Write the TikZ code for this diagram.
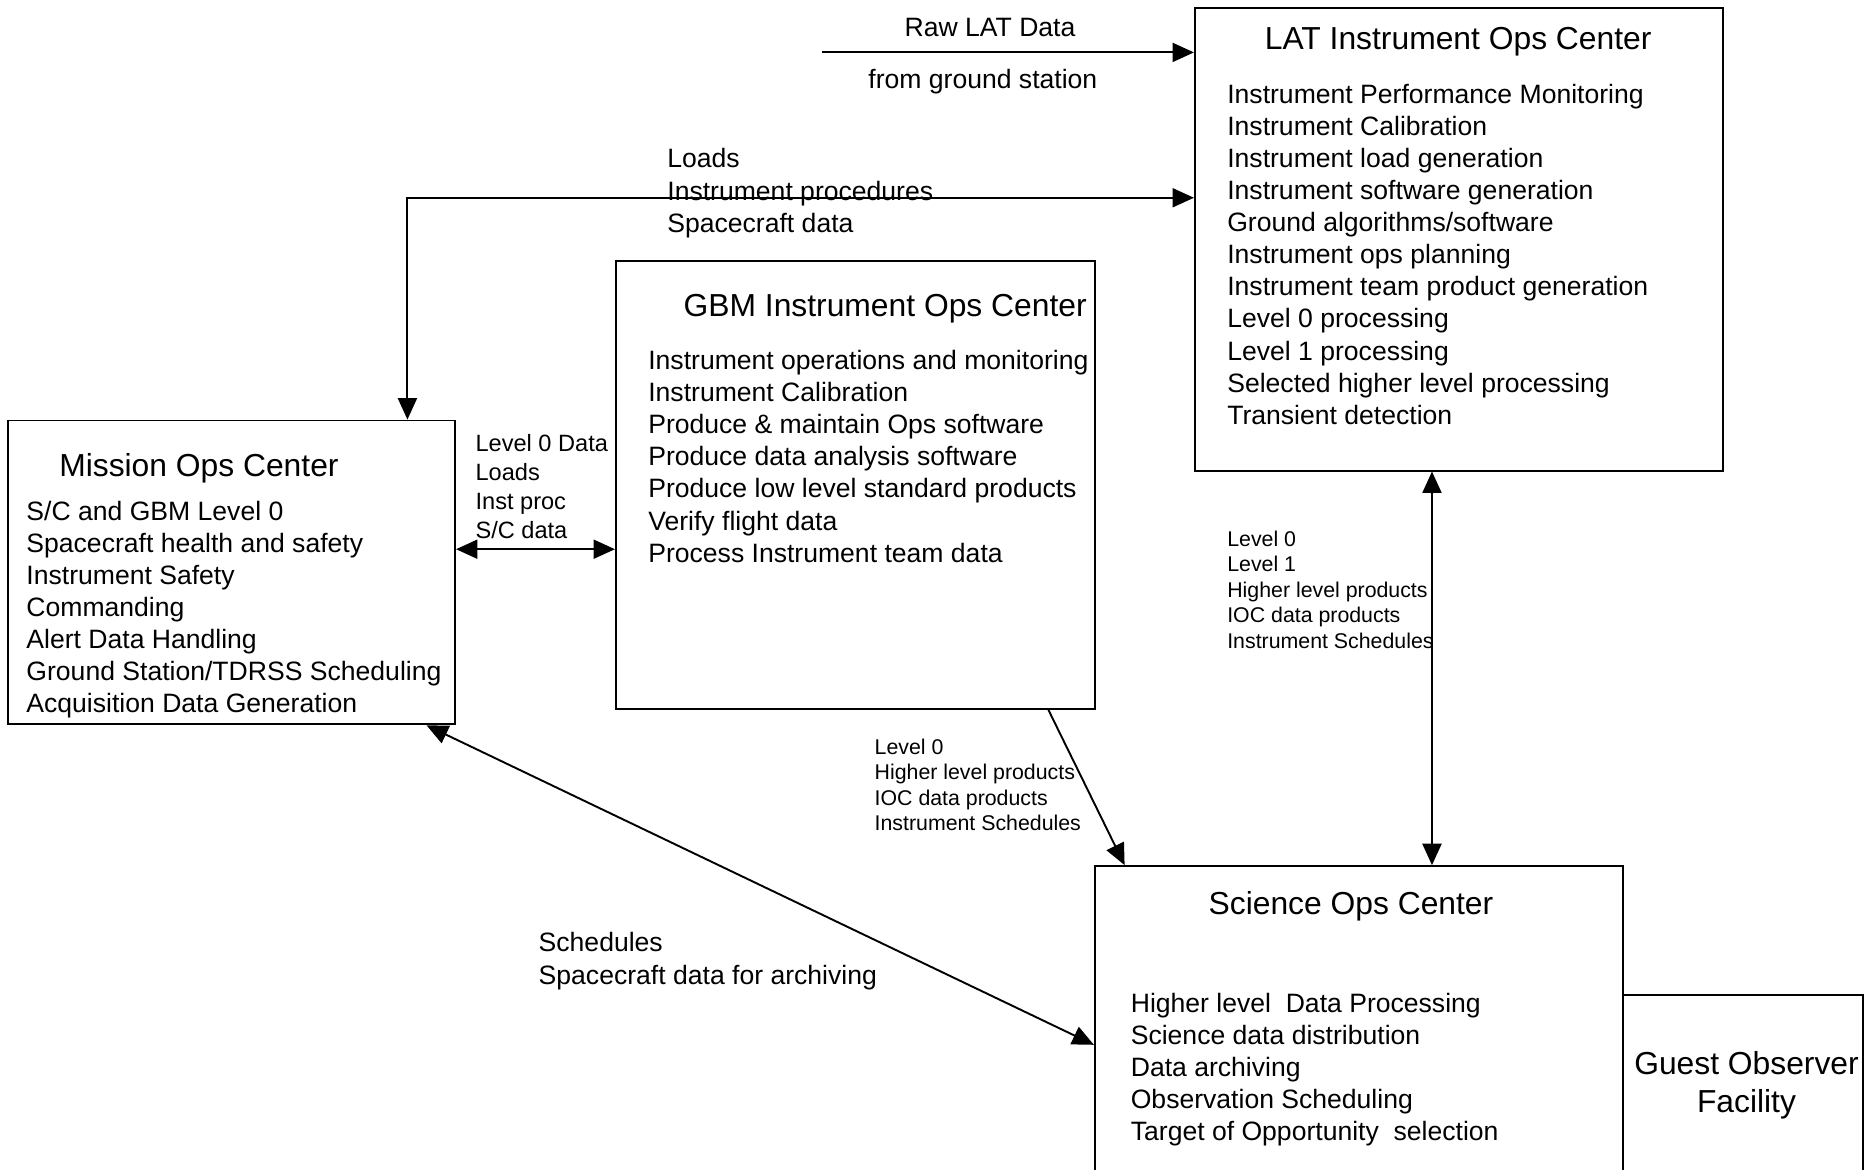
\documentclass[tikz,border=0pt]{standalone}
\usepackage{fontspec}
\setmainfont{Liberation Sans}
\usetikzlibrary{positioning}
\usetikzlibrary{arrows.meta,calc}

\tikzset{
  box/.style={draw, line width=1.6pt, inner sep=0pt},
  head/.style={anchor=base, inner sep=0pt, font=\fontsize{26.7}{32}\selectfont},
  item/.style={anchor=base west, inner sep=0pt, font=\fontsize{22.3}{27}\selectfont},
  small/.style={anchor=base west, inner sep=0pt, font=\fontsize{17.9}{21.5}\selectfont},
  link/.style={line width=1.6pt, >={Triangle[length=18pt,width=16pt]}},
}

\begin{document}
\begin{tikzpicture}[x=1pt,y=-1pt]
\useasboundingbox (0,0) rectangle (1568,982);
\clip (0,0) rectangle (1568,982);

% the centers
\node[box, minimum width=443pt, minimum height=388pt] (lat) at (1224.5,201) {};
\node[box, minimum width=402pt, minimum height=376pt] (gbm) at (718,407) {};
\node[box, minimum width=375pt, minimum height=255pt] (mission) at (194.5,480.5) {};
\node[box, minimum width=443pt, minimum height=273pt] (soc) at (1140.5,863.5) {};
\node[box, minimum width=202pt, minimum height=165pt] (gof) at (1463,917.5) {};

\node[head] (lattitle) at (1224,41.6) {LAT Instrument Ops Center};
\node[head] (gbmtitle) at (743,265.6) {GBM Instrument Ops Center};
\node[head] (missiontitle) at (167,399.6) {Mission Ops Center};
\node[head] (soctitle) at (1134,767.6) {Science Ops Center};
\node[head, anchor=center, align=center] (goftitle) at (1466,910.6) {Guest Observer\\Facility};

\foreach \t [count=\i from 0] in {Instrument Performance Monitoring, Instrument Calibration,
  Instrument load generation, Instrument software generation, Ground algorithms/software,
  Instrument ops planning, Instrument team product generation, Level 0 processing,
  Level 1 processing, Selected higher level processing, Transient detection}
  \node[item] (lat\i) at (1030,87+26.9*\i) {\t};

\foreach \t [count=\i from 0] in {Instrument operations and monitoring, Instrument Calibration,
  Produce \& maintain Ops software, Produce data analysis software,
  Produce low level standard products, Verify flight data, Process Instrument team data}
  \node[item] (gbm\i) at (544,310+27*\i) {\t};

\foreach \t [count=\i from 0] in {S/C and GBM Level 0, Spacecraft health and safety,
  Instrument Safety, Commanding, Alert Data Handling, Ground Station/TDRSS Scheduling,
  Acquisition Data Generation}
  \node[item] (mission\i) at (22,437+26.8*\i) {\t};

\foreach \t [count=\i from 0] in {Higher level~ Data Processing, Science data distribution,
  Data archiving, Observation Scheduling, Target of Opportunity~ selection}
  \node[item] (soc\i) at (949,850+26.75*\i) {\t};

% flows
\coordinate (gs) at (690,44);
\draw[link,->] (gs) -- (gs -| lat.west);
\node[head, font=\fontsize{22.3}{27}\selectfont] (rawlbl) at (831,31) {Raw LAT Data};
\node[head, font=\fontsize{22.3}{27}\selectfont] (gslbl) at (825,74) {from ground station};

\draw[link,<->] (lat.west |- 0,166) -| (342,0 |- mission.north);
\foreach \t [count=\i from 0] in {Loads, Instrument procedures, Spacecraft data}
  \node[item] (loads\i) at (560,141+27*\i) {\t};

\draw[link,<->] (mission.east |- 0,461) -- (gbm.west |- 0,461);
\foreach \t [count=\i from 0] in {Level 0 Data, Loads, Inst proc, S/C data}
  \node[small, font=\fontsize{19.8}{24}\selectfont] (mg\i) at (399,379.2+24.4*\i) {\t};

\draw[link,<->] (1202,0 |- lat.south) -- (1202,0 |- soc.north);
\foreach \t [count=\i from 0] in {Level 0, Level 1, Higher level products, IOC data products,
  Instrument Schedules}
  \node[small] (ls\i) at (1030,458.4+21.5*\i) {\t};

\draw[link,->] (880,0 |- gbm.south) -- (944,0 |- soc.north);
\foreach \t [count=\i from 0] in {Level 0, Higher level products, IOC data products,
  Instrument Schedules}
  \node[small] (gs\i) at (734,633.4+21.3*\i) {\t};

\draw[link,<->] (358,0 |- mission.south) -- (soc.west |- 0,877);
\foreach \t [count=\i from 0] in {Schedules, Spacecraft data for archiving}
  \node[item] (sched\i) at (452,799+27*\i) {\t};

\end{tikzpicture}
\end{document}
